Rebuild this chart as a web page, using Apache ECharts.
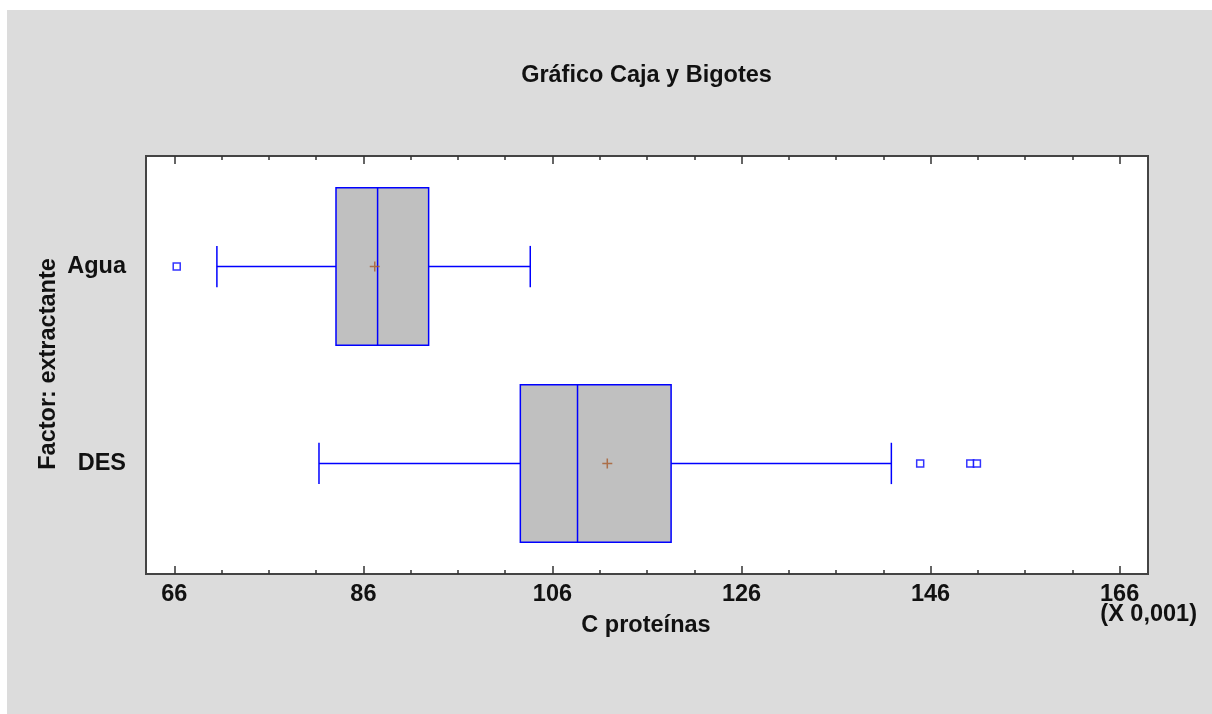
<!DOCTYPE html>
<html>
<head>
<meta charset="utf-8">
<script src="https://cdn.jsdelivr.net/npm/echarts@6/dist/echarts.min.js"></script>
<style>
  html, body { margin: 0; padding: 0; background: #ffffff; }
  #chart { width: 1212px; height: 714px; }
</style>
</head>
<body>
<div id="chart"></div>
<script>
// Five-number summaries per extractant (units of 0.001)
const categories = ['Agua', 'DES'];
const lowerWhisker = [70.5, 81.3];
const q1 = [83.1, 102.6];
const median = [87.5, 108.65];
const q3 = [92.9, 118.55];
const upperWhisker = [103.65, 141.85];
const means = [87.2, 111.8];
const outliersAgua = [66.25];
const outliersDES = [144.9, 150.2, 150.9];

// Axis tick positions
const majorTicks = [66, 86, 106, 126, 146, 166];
const minorTicks = [71, 76, 81, 91, 96, 101, 111, 116, 121, 131, 136, 141, 151, 156, 161];

const FONT = "'Liberation Sans', Arial, sans-serif";
const BLUE = '#0000ff';
const TICK_COLOR = '#333333';

const boxData = categories.map((c, i) => [i, lowerWhisker[i], q1[i], median[i], q3[i], upperWhisker[i]]);
const meanData = means.map((m, i) => [m, i]);
const outlierData = outliersAgua.map(v => [v, 0]).concat(outliersDES.map(v => [v, 1]));

function xAxisDef(position, ticks, length, showLabels) {
  return {
    type: 'value',
    gridIndex: 0,
    position: position,
    min: 63,
    max: 169,
    axisLine: { show: false, onZero: false },
    splitLine: { show: false },
    axisTick: {
      show: true,
      inside: true,
      length: length,
      customValues: ticks,
      lineStyle: { color: TICK_COLOR, width: 1.5 }
    },
    axisLabel: showLabels ? {
      show: true,
      customValues: ticks,
      fontSize: 23.5,
      fontWeight: 'bold',
      fontFamily: FONT,
      color: '#111111',
      margin: 9
    } : { show: false }
  };
}

function renderBox(params, api) {
  const i = api.value(0);
  const lo = api.coord([api.value(1), i]);
  const b1 = api.coord([api.value(2), i]);
  const md = api.coord([api.value(3), i]);
  const b3 = api.coord([api.value(4), i]);
  const hi = api.coord([api.value(5), i]);
  const boxH = api.size([0, 0.8])[1];
  const capH = api.size([0, 0.21])[1];
  const cy = lo[1];
  const line = { stroke: BLUE, lineWidth: 1.5 };
  return {
    type: 'group',
    children: [
      { type: 'line', shape: { x1: lo[0], y1: cy, x2: b1[0], y2: cy }, style: line },
      { type: 'line', shape: { x1: b3[0], y1: cy, x2: hi[0], y2: cy }, style: line },
      { type: 'line', shape: { x1: lo[0], y1: cy - capH / 2, x2: lo[0], y2: cy + capH / 2 }, style: line },
      { type: 'line', shape: { x1: hi[0], y1: cy - capH / 2, x2: hi[0], y2: cy + capH / 2 }, style: line },
      {
        type: 'rect',
        shape: { x: b1[0], y: cy - boxH / 2, width: b3[0] - b1[0], height: boxH },
        style: { fill: '#c0c0c0', stroke: BLUE, lineWidth: 1.5 }
      },
      { type: 'line', shape: { x1: md[0], y1: cy - boxH / 2, x2: md[0], y2: cy + boxH / 2 }, style: line }
    ]
  };
}

const chart = echarts.init(document.getElementById('chart'), null, { renderer: 'canvas' });

chart.setOption({
  animation: false,
  backgroundColor: '#dcdcdc',
  grid: {
    left: 146,
    right: 64,
    top: 156,
    bottom: 140,
    show: true,
    backgroundColor: '#ffffff',
    borderColor: '#444444',
    borderWidth: 2,
    containLabel: false
  },
  xAxis: [
    xAxisDef('bottom', majorTicks, 8, true),
    xAxisDef('bottom', minorTicks, 4, false),
    xAxisDef('top', majorTicks, 8, false),
    xAxisDef('top', minorTicks, 4, false)
  ],
  yAxis: {
    type: 'value',
    min: -0.5617,
    max: 1.5617,
    inverse: true,
    axisLine: { show: false },
    axisTick: { show: false },
    splitLine: { show: false },
    axisLabel: {
      customValues: [0, 1],
      formatter: v => categories[Math.round(v)],
      fontSize: 23.5,
      fontWeight: 'bold',
      fontFamily: FONT,
      color: '#111111',
      margin: 20
    }
  },
  series: [
    {
      type: 'custom',
      xAxisIndex: 0,
      yAxisIndex: 0,
      renderItem: renderBox,
      encode: { x: [1, 2, 3, 4, 5], y: 0 },
      data: boxData,
      z: 2
    },
    {
      type: 'scatter',
      xAxisIndex: 0,
      yAxisIndex: 0,
      data: meanData,
      symbol: 'path://M0,5L10,5M5,0L5,10',
      symbolSize: 10,
      itemStyle: { color: 'rgba(0,0,0,0)', borderColor: '#a65a2a', borderWidth: 1.5 },
      z: 4
    },
    {
      type: 'scatter',
      xAxisIndex: 0,
      yAxisIndex: 0,
      data: outlierData,
      symbol: 'rect',
      symbolSize: 7,
      itemStyle: { color: '#ffffff', borderColor: BLUE, borderWidth: 1.5 },
      z: 4
    }
  ],
  graphic: [
    { type: 'rect', silent: true, shape: { x: 0, y: 0, width: 1212, height: 10 }, style: { fill: '#ffffff' } },
    { type: 'rect', silent: true, shape: { x: 0, y: 0, width: 7, height: 714 }, style: { fill: '#ffffff' } },
    {
      type: 'text', x: 646.5, y: 76, silent: true,
      style: { text: 'Gráfico Caja y Bigotes', font: 'bold 23.5px ' + FONT, fill: '#111111', align: 'center', verticalAlign: 'middle' }
    },
    {
      type: 'text', x: 646, y: 626, silent: true,
      style: { text: 'C proteínas', font: 'bold 23.5px ' + FONT, fill: '#111111', align: 'center', verticalAlign: 'middle' }
    },
    {
      type: 'text', x: 1197, y: 615, silent: true,
      style: { text: '(X 0,001)', font: 'bold 23.5px ' + FONT, fill: '#111111', align: 'right', verticalAlign: 'middle' }
    },
    {
      type: 'text', x: 49, y: 364, rotation: Math.PI / 2, silent: true,
      style: { text: 'Factor: extractante', font: 'bold 23.5px ' + FONT, fill: '#111111', align: 'center', verticalAlign: 'middle' }
    }
  ]
});
</script>
</body>
</html>
